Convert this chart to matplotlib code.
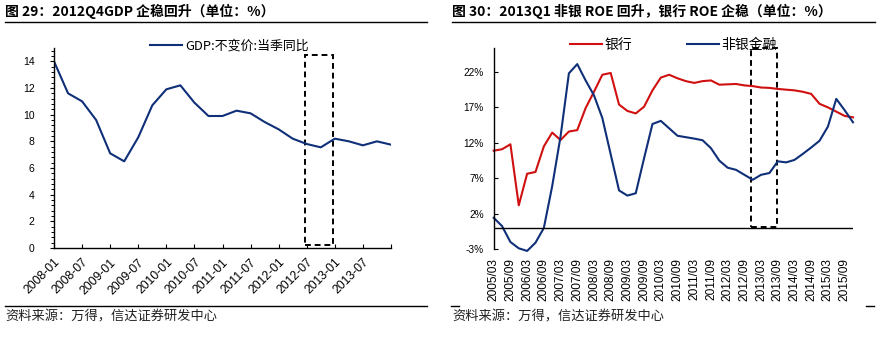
import matplotlib
matplotlib.use('Agg')
import matplotlib.pyplot as plt
from matplotlib.lines import Line2D
from matplotlib.patches import Rectangle
from matplotlib.ticker import MultipleLocator

plt.rcParams['font.family'] = ['Liberation Sans', 'Noto Sans CJK SC', 'DejaVu Sans']
CJK = ['Noto Sans CJK SC', 'DejaVu Sans']

# ---------------- data ----------------
gdp_tick_labels = ['2008-01', '2008-07', '2009-01', '2009-07', '2010-01', '2010-07',
                   '2011-01', '2011-07', '2012-01', '2012-07', '2013-01', '2013-07']
gdp_values = [14.0, 11.6, 11.0, 9.6, 7.1, 6.5, 8.3, 10.7, 11.9, 12.2, 10.9, 9.9,
              9.9, 10.3, 10.1, 9.45, 8.9, 8.2, 7.8, 7.55, 8.2, 8.0, 7.7, 8.0, 7.75]
gdp_label = 'GDP:不变价:当季同比'

roe_tick_labels = ['2005/03', '2005/09', '2006/03', '2006/09', '2007/03', '2007/09',
                   '2008/03', '2008/09', '2009/03', '2009/09', '2010/03', '2010/09',
                   '2011/03', '2011/09', '2012/03', '2012/09', '2013/03', '2013/09',
                   '2014/03', '2014/09', '2015/03', '2015/09']
bank_roe = [10.9, 11.1, 11.8, 3.2, 7.65, 7.9, 11.5, 13.45, 12.4, 13.6, 13.8, 16.9,
            19.2, 21.6, 21.85, 17.4, 16.5, 16.15, 17.1, 19.4, 21.2, 21.6, 21.1, 20.7,
            20.45, 20.7, 20.8, 20.2, 20.25, 20.3, 20.1, 20.0, 19.8, 19.75, 19.6, 19.5,
            19.4, 19.2, 18.9, 17.5, 17.0, 16.4, 15.8, 15.6]
nonbank_roe = [1.44, 0.27, -1.97, -2.86, -3.23, -2.07, 0.0, 5.9, 12.9, 21.8, 23.1, 20.8,
               18.7, 15.5, 10.4, 5.3, 4.57, 4.9, 9.85, 14.66, 15.1, 14.05, 13.0, 12.8,
               12.6, 12.37, 11.25, 9.5, 8.5, 8.2, 7.5, 6.8, 7.5, 7.75, 9.4, 9.25,
               9.6, 10.45, 11.35, 12.3, 14.3, 18.2, 16.6, 14.9]
roe_yticks = [-3, 2, 7, 12, 17, 22]
series_names = ['银行', '非银金融']

NAVY = '#0f2f78'
RED = '#d01010'

W, H = 880, 337
fig = plt.figure(figsize=(W / 100, H / 100), dpi=100)


def fx(px):
    return px / W


def fy(py):
    return 1 - py / H


# ---------------- left chart ----------------
ax1 = fig.add_axes([fx(54), fy(248), fx(391 - 54), (248 - 48) / H])
x1 = list(range(len(gdp_values)))
ax1.plot(x1, gdp_values, color=NAVY, lw=1.5, label=gdp_label)
ax1.set_xlim(0, len(gdp_values) - 1)
ax1.set_ylim(0, 15)
ax1.set_yticks(range(0, 15, 2))
ax1.yaxis.set_minor_locator(MultipleLocator(0.4))
for s in ['top', 'right']:
    ax1.spines[s].set_visible(False)
for s in ['left', 'bottom']:
    ax1.spines[s].set_linewidth(1.0)
ax1.tick_params(axis='y', which='major', direction='out', length=3, width=0.8,
                labelsize=7.5, pad=11)
ax1.tick_params(axis='y', which='minor', direction='out', length=2, width=0.7)
ax1.tick_params(axis='x', direction='in', length=3, width=0.8, labelsize=8.8, pad=6)
ax1.set_xticks(range(0, len(gdp_values), 2))
ax1.set_xticklabels(gdp_tick_labels + [''], rotation=45, ha='right', va='top',
                    rotation_mode='anchor')
ax1.add_patch(Rectangle((17.9, 0.25), 2.0, 14.2, fill=False, ec='black', lw=1.4,
                        ls=(0, (3, 2)), clip_on=False))
ax1.legend(loc='center left', bbox_to_anchor=(fx(150), fy(46)),
           bbox_transform=fig.transFigure, frameon=False,
           prop={'family': CJK, 'size': 9.3}, handlelength=2.5, handletextpad=0.25,
           borderpad=0, borderaxespad=0)

# ---------------- right chart ----------------
ax2 = fig.add_axes([fx(493.7), fy(249.3), fx(853 - 493.7), (249.3 - 48.5) / H])
x2 = list(range(len(bank_roe)))
ax2.plot(x2, bank_roe, color=RED, lw=1.5, label=series_names[0], clip_on=False)
ax2.plot(x2, nonbank_roe, color=NAVY, lw=1.5, label=series_names[1], clip_on=False)
ax2.axhline(0, color='black', lw=1.0)
ax2.set_xlim(0, len(bank_roe) - 1)
ax2.set_ylim(-3, 25.3)
for s in ['top', 'right', 'bottom']:
    ax2.spines[s].set_visible(False)
ax2.spines['left'].set_linewidth(1.0)
ax2.set_yticks(roe_yticks)
ax2.set_yticklabels([f'{v}%' for v in roe_yticks])
ax2.tick_params(axis='y', direction='in', length=3, width=0.8, labelsize=7.3, pad=7)
ax2.set_xticks(range(0, len(bank_roe), 2))
ax2.set_xticklabels(roe_tick_labels, rotation=90, ha='center', va='top')
ax2.tick_params(axis='x', length=0, labelsize=8.6, pad=6)
ax2.add_patch(Rectangle((30.8, 0.15), 3.05, 25.25, fill=False, ec='black', lw=1.4,
                        ls=(0, (3, 2)), clip_on=False))
ax2.legend(ncol=2, loc='center left', bbox_to_anchor=(fx(570), fy(44.5)),
           bbox_transform=fig.transFigure, frameon=False,
           prop={'family': CJK, 'size': 10}, handlelength=2.3, handletextpad=0.2,
           columnspacing=3.9, borderpad=0, borderaxespad=0)

# ---------------- titles, rules, sources ----------------
fig.text(fx(5), fy(11.5), '图 29：2012Q4GDP 企稳回升（单位：%）', fontsize=10,
         fontweight='bold', family=CJK, ha='left', va='center')
fig.text(fx(452), fy(11.5), '图 30：2013Q1 非银 ROE 回升，银行 ROE 企稳（单位：%）',
         fontsize=10, fontweight='bold', family=CJK, ha='left', va='center')

for (a, b, y) in [(5, 427, 21.5), (452, 875, 21.5), (5, 427, 306),
                  (451, 459, 306), (866, 874, 306)]:
    fig.add_artist(Line2D([fx(a), fx(b)], [fy(y), fy(y)], color='black', lw=1.0,
                          transform=fig.transFigure))

fig.text(fx(5), fy(317), '资料来源：万得，信达证券研发中心', fontsize=9.5,
         family=CJK, style='italic', color='#222222', ha='left', va='center')
fig.text(fx(452), fy(317), '资料来源：万得，信达证券研发中心', fontsize=9.5,
         family=CJK, style='italic', color='#222222', ha='left', va='center')

fig.savefig('out.png', dpi=100)
